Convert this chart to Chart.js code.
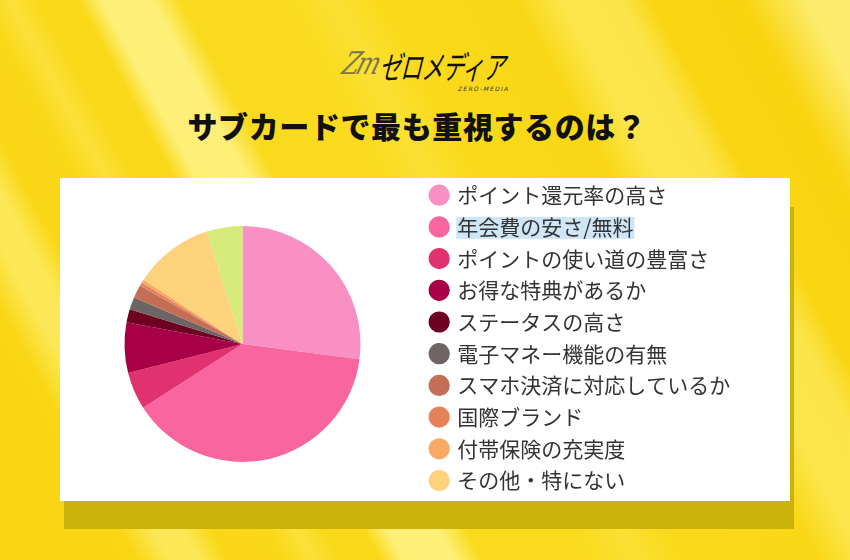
<!DOCTYPE html>
<html lang="ja">
<head>
<meta charset="utf-8">
<script src="https://cdn.jsdelivr.net/npm/chart.js@4/dist/chart.umd.min.js"></script>
<style>
  html, body { margin: 0; padding: 0; }
  body { width: 850px; height: 560px; overflow: hidden; position: relative;
    font-family: "Noto Sans CJK JP", "Noto Sans", sans-serif;
    background:
      linear-gradient(61.6deg,
        rgba(255,255,255,0) 0px, rgba(255,255,255,0) 120px,
        rgba(255,246,140,0.55) 150px, rgba(255,246,140,0.55) 175px, rgba(255,255,255,0) 200px,
        rgba(255,255,255,0) 250px, rgba(255,240,120,0.35) 275px, rgba(255,255,255,0) 300px,
        rgba(255,255,255,0) 335px, rgba(255,246,150,0.75) 355px, rgba(255,246,150,0.75) 400px, rgba(255,255,255,0) 425px,
        rgba(255,255,255,0) 520px, rgba(255,240,110,0.3) 560px, rgba(255,255,255,0) 600px,
        rgba(255,255,255,0) 720px, rgba(255,244,130,0.5) 760px, rgba(255,244,130,0.5) 810px, rgba(255,255,255,0) 840px,
        rgba(255,255,255,0) 920px, rgba(255,246,150,0.7) 975px, rgba(255,246,150,0.7) 1015px),
      linear-gradient(61.6deg, #F9D512 0%, #FADB1E 50%, #F8D20C 100%);
  }
  #shadow { position: absolute; left: 64px; top: 207px; width: 730px; height: 322px; background: #CBB20A; }
  #card { position: absolute; left: 60px; top: 178px; width: 730px; height: 323px; background: #ffffff; }
  #title { position: absolute; left: 0; width: 834px; top: 105px; text-align: center;
    font-size: 30px; font-weight: 900; color: #111; line-height: 40px; letter-spacing: 0.6px; }
  #logo-zm { position: absolute; left: 344px; top: 50px; font-family: "DejaVu Serif", serif; font-style: italic;
    font-size: 24px; color: #7a7450; transform: skewX(-18deg) scaleY(1.3); letter-spacing: -3px; }
  #logo-jp { position: absolute; left: 388px; top: 42px; font-size: 32px; font-weight: 400; color: #111;
    transform-origin: left top; transform: skewX(-14deg) scaleX(0.68); letter-spacing: -1px; white-space: nowrap; }
  #logo-en { position: absolute; left: 458px; top: 85px; font-family: "DejaVu Sans", sans-serif;
    font-size: 6px; color: #333; letter-spacing: 1.3px; transform: skewX(-14deg); }
  #wrap { position: absolute; left: 64px; top: 174px; height: 340px; }
</style>
</head>
<body>
<div id="logo-zm">Zm</div>
<div id="logo-jp">ゼロメディア</div>
<div id="logo-en">ZERO-MEDIA</div>
<div id="title">サブカードで最も重視するのは？</div>
<div id="shadow"></div>
<div id="card"></div>
<div id="wrap"><canvas id="c" height="340"></canvas></div>
<script>
const categories = [
  "ポイント還元率の高さ",
  "年会費の安さ/無料",
  "ポイントの使い道の豊富さ",
  "お得な特典があるか",
  "ステータスの高さ",
  "電子マネー機能の有無",
  "スマホ決済に対応しているか",
  "国際ブランド",
  "付帯保険の充実度",
  "その他・特にない",
  "無回答"
];
const shares = [27.0, 38.8, 5.1, 6.9, 1.8, 1.7, 1.8, 0.45, 0.45, 10.9, 4.9];
const sliceColors = [
  "#F990C4", "#F9659F", "#E0326E", "#A80046", "#6E0023",
  "#6E6464", "#C36E55", "#E6825A", "#F8AA64", "#FCD27D", "#D7EB7D"
];
const highlightIndex = 1;
const legendCount = 10;

const FONT_SIZE = 21, BOX = 15, PAD = 10.7;
const FONT_STR = FONT_SIZE + 'px "Noto Sans CJK JP"';

const canvas = document.getElementById('c');
const mctx = canvas.getContext('2d');
mctx.font = FONT_STR;
let maxTW = 0;
categories.slice(0, legendCount).forEach(t => { maxTW = Math.max(maxTW, mctx.measureText(t).width); });
const legendW = PAD + BOX + FONT_SIZE / 2 + maxTW + 10;
const chartAreaW = 357;
canvas.width = Math.ceil(chartAreaW + legendW);
canvas.style.width = canvas.width + 'px';
const extra = canvas.width - (chartAreaW + legendW);

const highlightPlugin = {
  id: 'selHighlight',
  beforeDraw(chart) {
    const lg = chart.legend;
    if (!lg || !lg.legendHitBoxes || !lg.legendHitBoxes[highlightIndex]) return;
    const hb = lg.legendHitBoxes[highlightIndex];
    const ctx = chart.ctx;
    ctx.save();
    ctx.font = FONT_STR;
    const w = ctx.measureText(categories[highlightIndex]).width;
    const x = hb.left + BOX + FONT_SIZE / 2 - 1;
    ctx.fillStyle = '#CFE6F7';
    ctx.fillRect(x, hb.top + hb.height / 2 - 10, w + 2, 22);
    ctx.restore();
  }
};

new Chart(canvas, {
  type: 'pie',
  data: {
    labels: categories,
    datasets: [{
      data: shares,
      backgroundColor: sliceColors,
      borderWidth: 0,
      radius: 118
    }]
  },
  options: {
    responsive: false,
    animation: false,
    layout: { padding: { left: 0, top: 0, bottom: 0, right: extra } },
    plugins: {
      tooltip: { enabled: false },
      legend: {
        position: 'right',
        align: 'start',
        labels: {
          usePointStyle: true,
          pointStyle: 'circle',
          boxWidth: BOX,
          boxHeight: BOX,
          padding: PAD,
          color: '#333333',
          font: { family: '"Noto Sans CJK JP"', size: FONT_SIZE },
          filter: (item) => item.index < legendCount
        }
      }
    }
  },
  plugins: [highlightPlugin]
});
</script>
</body>
</html>
